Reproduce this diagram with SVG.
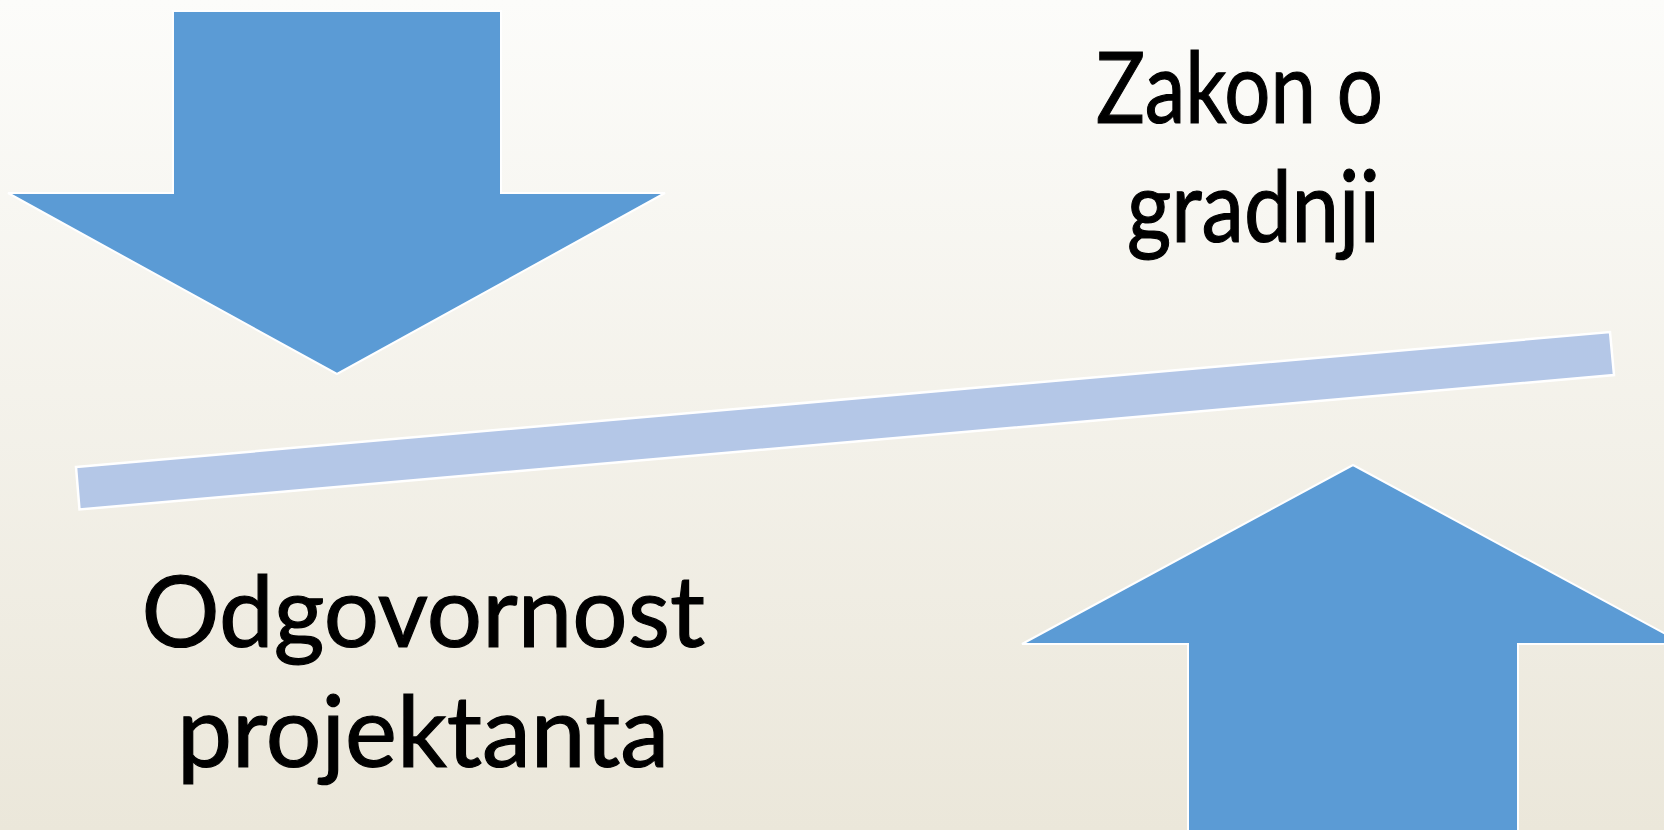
<svg xmlns="http://www.w3.org/2000/svg" width="1664" height="830" viewBox="0 0 1664 830">
  <defs>
    <linearGradient id="bg" x1="0" y1="0" x2="0" y2="1">
      <stop offset="0" stop-color="#fcfcfa"/>
      <stop offset="1" stop-color="#ebe7da"/>
    </linearGradient>
    <style>
      .arrow { fill: #5b9bd5; stroke: #ffffff; stroke-width: 2; stroke-linejoin: miter; }
      .bar { fill: #b4c7e7; stroke: #ffffff; stroke-width: 2.5; }
      .lbl { font-family: Lato, "Open Sans", "Liberation Sans", sans-serif; font-size: 99px; fill: #000000; stroke: #000000; stroke-width: 1.2; }
    </style>
  </defs>
  <rect x="0" y="0" width="1664" height="830" fill="url(#bg)"/>
  <g id="connectors">
    <polygon id="beam" class="bar" points="76,467 1610,332 1614,375 79.5,509.5"/>
  </g>
  <g id="arrow-down">
    <polygon class="arrow" points="173,11 501,11 501,193 665,193 337,374 8,193 173,193"/>
  </g>
  <g id="arrow-up">
    <polygon class="arrow" points="1353,465 1684,644 1518,644 1518,840 1188,840 1188,644 1022,644"/>
  </g>
  <g id="label-zakon">
    <text class="lbl" x="1096" y="123" textLength="287" lengthAdjust="spacingAndGlyphs">Zakon o</text>
    <text class="lbl" x="1127" y="242" textLength="253" lengthAdjust="spacingAndGlyphs">gradnji</text>
  </g>
  <g id="label-odgovornost">
    <text class="lbl" x="141.5" y="647" textLength="563.5" lengthAdjust="spacingAndGlyphs">Odgovornost</text>
    <text class="lbl" x="177" y="767" textLength="492" lengthAdjust="spacingAndGlyphs">projektanta</text>
  </g>
</svg>
